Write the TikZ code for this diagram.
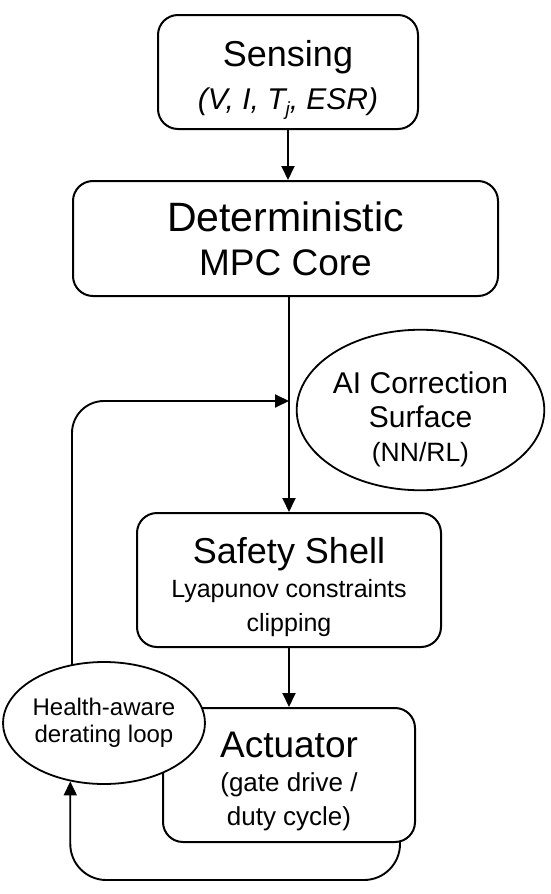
\documentclass[tikz,border=0pt]{standalone}
\usepackage{fontspec}
\setmainfont{Liberation Sans}
\usetikzlibrary{arrows.meta,shapes.geometric,backgrounds}
\newcommand{\lowj}{\raisebox{-0.35ex}{\fontsize{19}{19}\selectfont j}}
\newcommand{\fs}[2]{\fontsize{#1}{#2}\selectfont}
\newcommand{\tallstrut}[1]{\rule{0pt}{#1}}
\begin{document}
\begin{tikzpicture}[x=1pt,y=-1pt,
  box/.style={draw,line width=2pt,rounded corners=20pt,fill=white,align=center,inner sep=0pt},
  oval/.style={draw,ellipse,line width=1.8pt,fill=white,align=center,inner sep=0pt},
  conn/.style={line width=1.9pt,-{Triangle[length=14pt,width=13pt]}},
]
\useasboundingbox (0,0) rectangle (550,894);
\node[box,minimum width=260pt,minimum height=114pt,font=\fs{36}{43}] (sens) at (288,72)
  {\tallstrut{42pt}Sensing\\{\fs{30}{43}\itshape (V, I, T\lowj, ESR)}};
\node[box,minimum width=425pt,minimum height=115pt,font=\fs{41}{44}] (mpc) at (285.5,238.5)
  {Deterministic\\{\fs{37}{44}MPC Core}};
\node[oval,minimum width=235pt,minimum height=154pt,font=\fs{30}{34}] (ai) at (420.5,410)
  {\tallstrut{40pt}AI Correction\\Surface\\{\fs{26.5}{34}(NN/RL)}};
\node[box,minimum width=304pt,minimum height=134pt,font=\fs{36}{34}] (safe) at (289,580)
  {\tallstrut{40pt}Safety Shell\\{\fs{25}{32}Lyapunov constraints}\\{\fs{25}{32}clipping}};
\node[box,minimum width=252pt,minimum height=134pt,font=\fs{37}{34}] (act) at (289,775)
  {\tallstrut{38pt}Actuator\\{\fs{26}{30}(gate drive /}\\{\fs{26}{30}duty cycle)}};
\node[oval,minimum width=182pt,minimum height=122pt,font=\fs{24}{27}] (health) at (104,723)
  {Health-aware\\derating loop};
\coordinate (merge) at (289,401);
\coordinate (rb) at (400,880);
\begin{scope}[on background layer]
  \draw[conn] (sens.south) -- (sens.south |- mpc.north);
  \draw[conn] (mpc.south -| safe.north) -- (safe.north);
  \draw[conn] (safe.south) -- (act.north);
  \draw[conn,rounded corners=32pt] ([xshift=-32pt]health.center) |- (merge);
  \draw[conn,rounded corners=36pt] (rb |- act.center) -- (rb) -| (health.240);
\end{scope}
\end{tikzpicture}
\end{document}
